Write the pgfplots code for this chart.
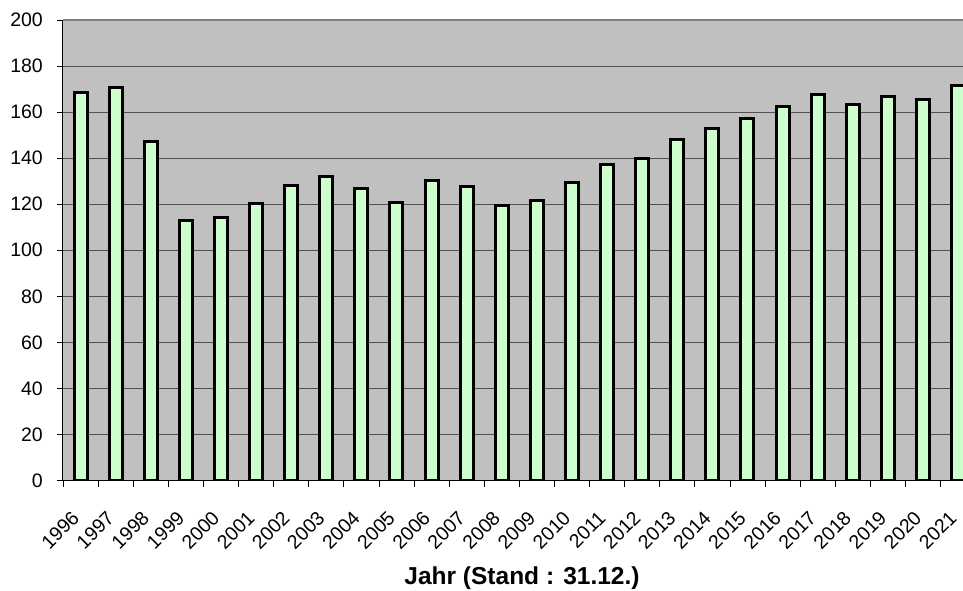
\documentclass[border=0pt]{standalone}
\usepackage{fontspec}
\setmainfont{Liberation Sans}
\usepackage{pgfplots}
\pgfplotsset{compat=1.18}
\definecolor{barfill}{RGB}{204,255,204}
\definecolor{plotbg}{RGB}{192,192,192}
\definecolor{gridc}{RGB}{80,80,80}
\definecolor{topc}{RGB}{128,128,128}
\begin{document}
\begin{tikzpicture}
\useasboundingbox (-63pt,-110.5pt) rectangle (900pt,480.5pt);
\begin{axis}[
  at={(0pt,0pt)}, anchor=south west,
  scale only axis,
  width=900pt, height=460.5pt,
  xmin=-0.5, xmax=25.14,
  ymin=0, ymax=200,
  axis x line*=bottom, axis y line*=left,
  axis line style={black, line width=1pt, -},
  axis background/.style={fill=plotbg},
  ytick={0,20,...,180},
  extra y ticks={200},
  extra y tick style={grid style={topc, line width=1.5pt}},
  ymajorgrids,
  grid style={gridc, line width=1pt},
  xtick={0,...,25},
  xticklabels={1996,1997,1998,1999,2000,2001,2002,2003,2004,2005,2006,2007,2008,2009,2010,2011,2012,2013,2014,2015,2016,2017,2018,2019,2020,2021},
  minor xtick={-0.5,0.5,...,24.5},
  tick align=outside,
  major tick length=6pt,
  minor tick length=6pt,
  major x tick style={draw=none},
  tick style={black, line width=0.8pt},
  /pgf/number format/assume math mode=true,
  tick label style={font=\fontsize{19.5}{22}\selectfont},
  yticklabel style={anchor=east, inner sep=0pt, xshift=-14pt},
  xticklabel style={anchor=north east, inner sep=0pt, xshift=-10pt, yshift=-23pt, rotate=45},
  xlabel={Jahr (Stand : 31.12.)},
  xlabel style={font=\bfseries\fontsize{24.5}{28}\selectfont, at={(axis description cs:0.51,0)}, anchor=center, yshift=-98pt},
]
\addplot[ybar, bar width=13pt, fill=barfill, draw=black, line width=3pt]
coordinates {
(0,168.4) (1,170.7) (2,147.4) (3,112.8) (4,114.3) (5,120.1) (6,128.2) (7,132.1) (8,127.0)
(9,120.7) (10,130.2) (11,127.7) (12,119.6) (13,121.8) (14,129.6) (15,137.2) (16,140.0)
(17,148.0) (18,152.9) (19,157.3) (20,162.5) (21,167.7) (22,163.4) (23,166.7) (24,165.4) (25,171.6)
};
\end{axis}
\end{tikzpicture}
\end{document}
